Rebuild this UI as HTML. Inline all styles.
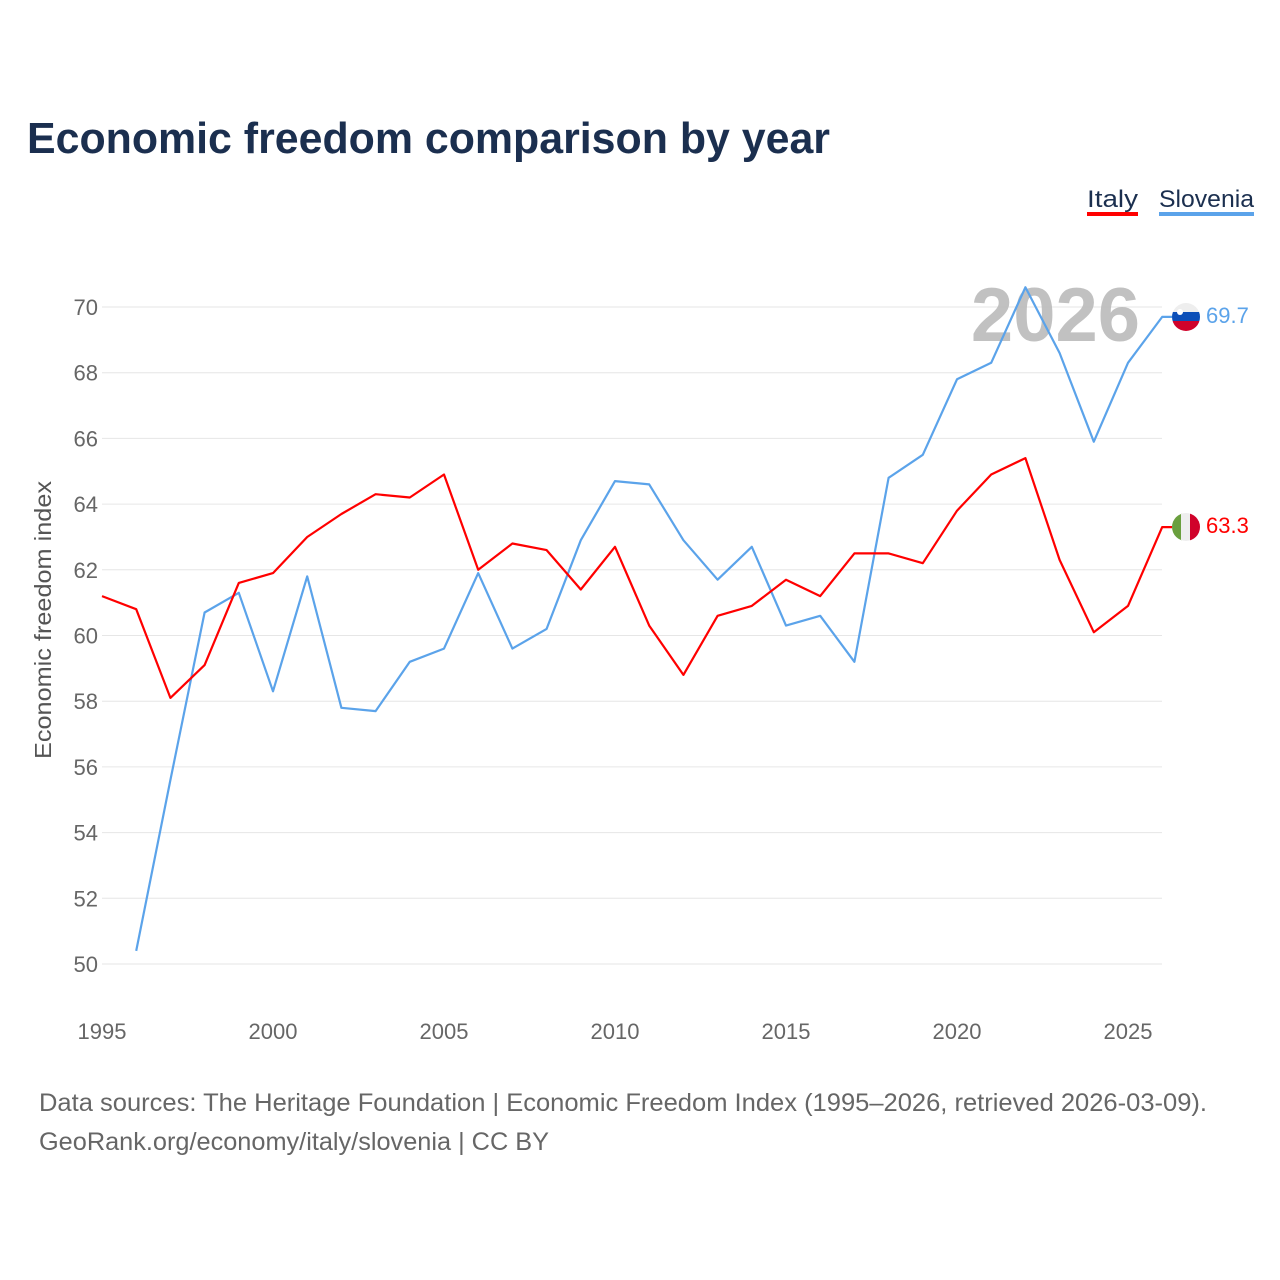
<!DOCTYPE html>
<html><head><meta charset="utf-8"><style>
body{margin:0;background:#fff;font-family:"Liberation Sans",sans-serif;}
svg{display:block}
</style></head><body>
<svg width="1280" height="1280">
<rect width="1280" height="1280" fill="#fff"/>
<text x="27" y="153" font-size="44" font-weight="bold" fill="#1b2f4f" textLength="803" lengthAdjust="spacingAndGlyphs">Economic freedom comparison by year</text>
<g>
<text x="1087" y="207" font-size="24" fill="#1b2f4f" textLength="51" lengthAdjust="spacingAndGlyphs">Italy</text>
<rect x="1087" y="212" width="51" height="4" fill="#f00"/>
<text x="1159" y="207" font-size="24" fill="#1b2f4f" textLength="95" lengthAdjust="spacingAndGlyphs">Slovenia</text>
<rect x="1159" y="212" width="95" height="4" fill="#5ba3ea"/>
</g>
<g id="grid"></g>
<g id="yt"></g>
<g id="xt"></g>
<text x="1140" y="341" font-size="76" font-weight="bold" fill="#bbb" text-anchor="end" opacity="0.9">2026</text>
<text transform="translate(51,620) rotate(-90)" font-size="23" fill="#555" text-anchor="middle" textLength="278" lengthAdjust="spacingAndGlyphs">Economic freedom index</text>
<g id="series"></g>
<g>
<clipPath id="c1"><circle cx="1186" cy="317" r="14"/></clipPath>
<g clip-path="url(#c1)"><rect x="1172" y="303" width="28" height="10" fill="#eee"/><rect x="1172" y="312" width="28" height="9" fill="#0c4fb8"/><rect x="1172" y="321" width="28" height="10" fill="#d0022a"/><circle cx="1180" cy="312" r="3" fill="#fff"/></g>
</g>
<g>
<clipPath id="c2"><circle cx="1186" cy="527" r="14"/></clipPath>
<g clip-path="url(#c2)"><rect x="1172" y="513" width="10" height="28" fill="#6a9f3e"/><rect x="1181" y="513" width="10" height="28" fill="#eee"/><rect x="1190" y="513" width="10" height="28" fill="#d0022a"/></g>
</g>
<text x="1206" y="323" font-size="22" fill="#5ba3ea">69.7</text>
<text x="1206" y="533" font-size="22" fill="#f00">63.3</text>
<text x="39" y="1111" font-size="25" fill="#666" textLength="1168" lengthAdjust="spacingAndGlyphs">Data sources: The Heritage Foundation | Economic Freedom Index (1995–2026, retrieved 2026-03-09).</text>
<text x="39" y="1150" font-size="25" fill="#666" textLength="510" lengthAdjust="spacingAndGlyphs">GeoRank.org/economy/italy/slovenia | CC BY</text>
</svg>
<script>
const years=[1995,1996,1997,1998,1999,2000,2001,2002,2003,2004,2005,2006,2007,2008,2009,2010,2011,2012,2013,2014,2015,2016,2017,2018,2019,2020,2021,2022,2023,2024,2025,2026];
const italy=[61.2,60.8,58.1,59.1,61.6,61.9,63.0,63.7,64.3,64.2,64.9,62.0,62.8,62.6,61.4,62.7,60.3,58.8,60.6,60.9,61.7,61.2,62.5,62.5,62.2,63.8,64.9,65.4,62.3,60.1,60.9,63.3];
const slovenia=[null,50.4,55.6,60.7,61.3,58.3,61.8,57.8,57.7,59.2,59.6,61.9,59.6,60.2,62.9,64.7,64.6,62.9,61.7,62.7,60.3,60.6,59.2,64.8,65.5,67.8,68.3,70.6,68.6,65.9,68.3,69.7];
const yTicks=[50,52,54,56,58,60,62,64,66,68,70];
const xTicks=[1995,2000,2005,2010,2015,2020,2025];
const NS='http://www.w3.org/2000/svg';
const X=y=>102+(y-1995)*34.2;
const Y=v=>964-(v-50)*32.85;
function mk(t,a,p){const e=document.createElementNS(NS,t);for(const k in a)e.setAttribute(k,a[k]);p.appendChild(e);return e;}
const g=document.getElementById('grid'),yt=document.getElementById('yt'),xt=document.getElementById('xt'),s=document.getElementById('series');
yTicks.forEach(v=>{
const l=mk('line',{x1:102,x2:1162,y1:Y(v),y2:Y(v),stroke:'#e6e6e6','stroke-width':1},g);


const t=mk('text',{x:98,y:Y(v)+8,'font-size':22,fill:'#666','text-anchor':'end'},yt);t.textContent=v;


});
xTicks.forEach(v=>{
const t=mk('text',{x:X(v),y:1039,'font-size':22,fill:'#666','text-anchor':'middle'},xt);t.textContent=v;


});
function line(vals,color,name){
const pts=[];vals.forEach((v,i)=>{if(v!=null)pts.push(X(years[i]).toFixed(1)+','+Y(v).toFixed(1));});
const last=vals[vals.length-1];
pts.push('1172,'+Y(last).toFixed(1));
const p=mk('polyline',{points:pts.join(' '),fill:'none',stroke:color,'stroke-width':2.2,'stroke-linejoin':'round'},s);


}
line(slovenia,'#5ba3ea','slovenia-line');
line(italy,'#f00','italy-line');
</script>
</body></html>
